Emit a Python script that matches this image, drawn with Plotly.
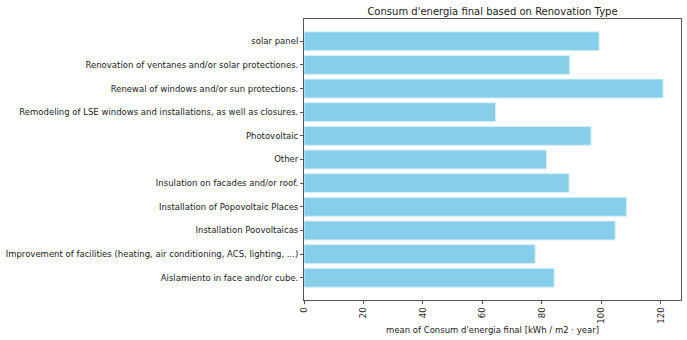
import plotly.graph_objects as go

categories = [
    "Aislamiento in face and/or cube.",
    "Improvement of facilities (heating, air conditioning, ACS, lighting, ...)",
    "Installation Poovoltaicas",
    "Installation of Popovoltaic Places",
    "Insulation on facades and/or roof.",
    "Other",
    "Photovoltaic",
    "Remodeling of LSE windows and installations, as well as closures.",
    "Renewal of windows and/or sun protections.",
    "Renovation of ventanes and/or solar protectiones.",
    "solar panel",
]
values = [84.1, 77.7, 104.6, 108.4, 89.1, 81.5, 96.5, 64.4, 120.7, 89.3, 99.2]
x_ticks = [0, 20, 40, 60, 80, 100, 120]

FONT = "DejaVu Sans"
axis_color = "#555555"
text_color = "#1a1a1a"

fig = go.Figure(
    go.Bar(
        x=values,
        y=categories,
        orientation="h",
        width=0.8,
        marker=dict(color="#87CEEB", line=dict(color="#d6eef8", width=1)),
    )
)

n = len(categories)
xmax = max(values) * 1.05
fig.update_layout(
    width=687,
    height=340,
    margin=dict(l=304, r=6, t=19, b=40),
    paper_bgcolor="white",
    plot_bgcolor="white",
    showlegend=False,
    font=dict(family=FONT, size=8.5, color=text_color),
    title=dict(
        text="Consum d'energia final based on Renovation Type",
        x=(304 + 681) / 2 / 687,
        xanchor="center",
        y=1 - 11 / 340,
        yanchor="middle",
        font=dict(family=FONT, size=10, color=text_color),
    ),
    bargap=0.2,
)
fig.update_xaxes(
    range=[0, xmax],
    tickvals=x_ticks,
    ticktext=[str(t) for t in x_ticks],
    tickangle=-90,
    ticks="outside",
    ticklen=3,
    tickcolor=axis_color,
    showgrid=False,
    zeroline=False,
    showline=True,
    linecolor=axis_color,
    linewidth=1,
    mirror=True,
    title=dict(
        text="mean of Consum d'energia final [kWh / m2 · year]",
        font=dict(family=FONT, size=8.5, color=text_color),
        standoff=4,
    ),
)
fig.update_yaxes(
    type="category",
    categoryorder="array",
    categoryarray=categories,
    range=[-0.94, n - 1 + 0.94],
    ticks="outside",
    ticklen=3,
    tickcolor=axis_color,
    showgrid=False,
    zeroline=False,
    showline=True,
    linecolor=axis_color,
    linewidth=1,
    mirror=True,
)

fig.write_html("out.html")
